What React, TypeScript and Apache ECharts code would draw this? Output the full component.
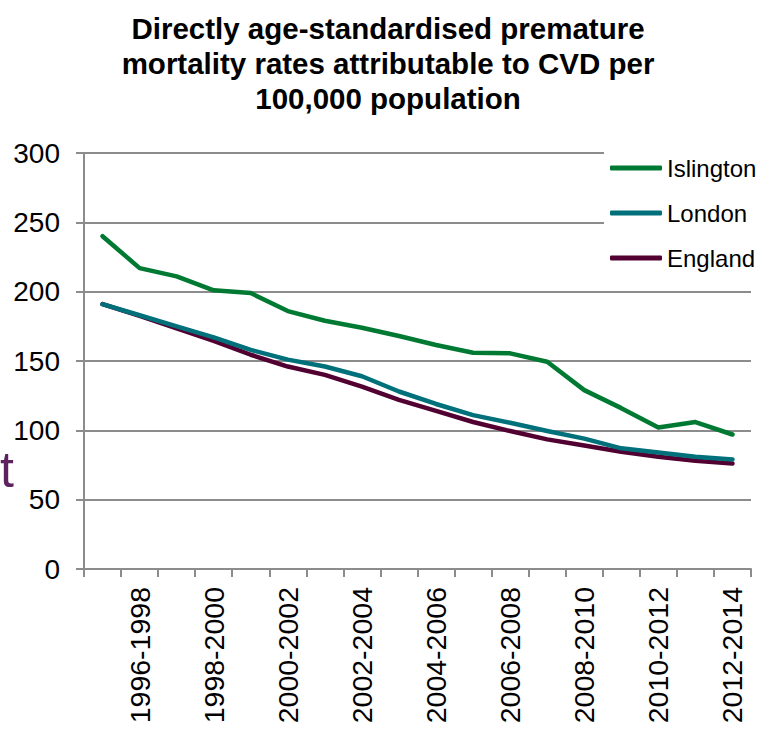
import React, { useEffect, useRef } from "react";
import * as echarts from "echarts";

const titleLines = [
  "Directly age-standardised premature",
  "mortality rates attributable to CVD per",
  "100,000 population",
];

const categories = [
  "1995-1997", "1996-1998", "1997-1999", "1998-2000", "1999-2001", "2000-2002",
  "2001-2003", "2002-2004", "2003-2005", "2004-2006", "2005-2007", "2006-2008",
  "2007-2009", "2008-2010", "2009-2011", "2010-2012", "2011-2013", "2012-2014",
];

const islington = [240, 217, 211, 201, 199, 186, 179, 174, 168, 161.5, 156, 155.5, 149.5, 129, 116, 102, 106, 97];
const london = [191, 183, 175, 167, 158, 151, 146, 139, 128, 119, 111, 105.5, 99.5, 94, 87, 84, 81, 79];
const england = [191, 182.5, 173.5, 164.5, 154.5, 146, 140, 131.5, 122, 114, 106, 99.5, 93.5, 89, 84.5, 81, 78, 76];

const seriesNames = ["Islington", "London", "England"];
const seriesColors = ["#007A33", "#00707A", "#520032"];

const FONT = "'Liberation Sans', Arial, sans-serif";

export default function App() {
  const ref = useRef<HTMLDivElement>(null);

  useEffect(() => {
    if (!ref.current) return;
    const chart = echarts.init(ref.current, undefined, { renderer: "svg" });
    const datasets = [islington, london, england];
    chart.setOption({
      animation: false,
      backgroundColor: "#ffffff",
      title: {
        text: titleLines.join("\n"),
        left: 383,
        top: 6,
        textAlign: "center",
        textStyle: {
          fontFamily: FONT,
          fontSize: 29.5,
          fontWeight: "bold",
          color: "#000000",
          lineHeight: 35,
        },
      },
      grid: { left: 84, right: 18, top: 153, bottom: 167, containLabel: false },
      legend: {
        orient: "vertical",
        left: 604,
        top: 146,
        padding: [10, 8, 10, 6],
        backgroundColor: "#ffffff",
        itemWidth: 52,
        itemHeight: 5,
        itemGap: 21,
        icon: "roundRect",
        data: seriesNames,
        textStyle: { fontFamily: FONT, fontSize: 24, color: "#000000", lineHeight: 24 },
      },
      xAxis: {
        type: "category",
        data: categories,
        boundaryGap: true,
        axisLine: { show: true, lineStyle: { color: "#8C8C8C", width: 2 } },
        axisTick: { show: true, interval: 0, length: 8, lineStyle: { color: "#8C8C8C", width: 2 } },
        axisLabel: {
          interval: (index: number) => index % 2 === 1,
          rotate: 90,
          margin: 18,
          fontFamily: FONT,
          fontSize: 28.5,
          color: "#000000",
        },
        splitLine: { show: false },
      },
      yAxis: {
        type: "value",
        min: 0,
        max: 300,
        interval: 50,
        axisLine: { show: true, lineStyle: { color: "#8C8C8C", width: 2 } },
        axisTick: { show: true, inside: false, length: 8, lineStyle: { color: "#8C8C8C", width: 2 } },
        axisLabel: { margin: 24, fontFamily: FONT, fontSize: 28, color: "#000000" },
        splitLine: { show: true, lineStyle: { color: "#8C8C8C", width: 2 } },
      },
      series: datasets.map((d, i) => ({
        name: seriesNames[i],
        type: "line",
        data: d,
        symbol: "none",
        showSymbol: false,
        color: seriesColors[i],
        lineStyle: { color: seriesColors[i], width: 4.5, cap: "round", join: "round" },
        z: 5 - i,
      })),
      graphic: [
        {
          type: "text",
          left: 0,
          top: 445,
          style: {
            text: "t",
            fontFamily: FONT,
            fontSize: 50,
            fill: "#5E2260",
          },
        },
      ],
    });
    return () => chart.dispose();
  }, []);

  return (
    <div
      ref={ref}
      style={{ position: "fixed", left: 0, top: 0, width: 769, height: 736 }}
    />
  );
}
